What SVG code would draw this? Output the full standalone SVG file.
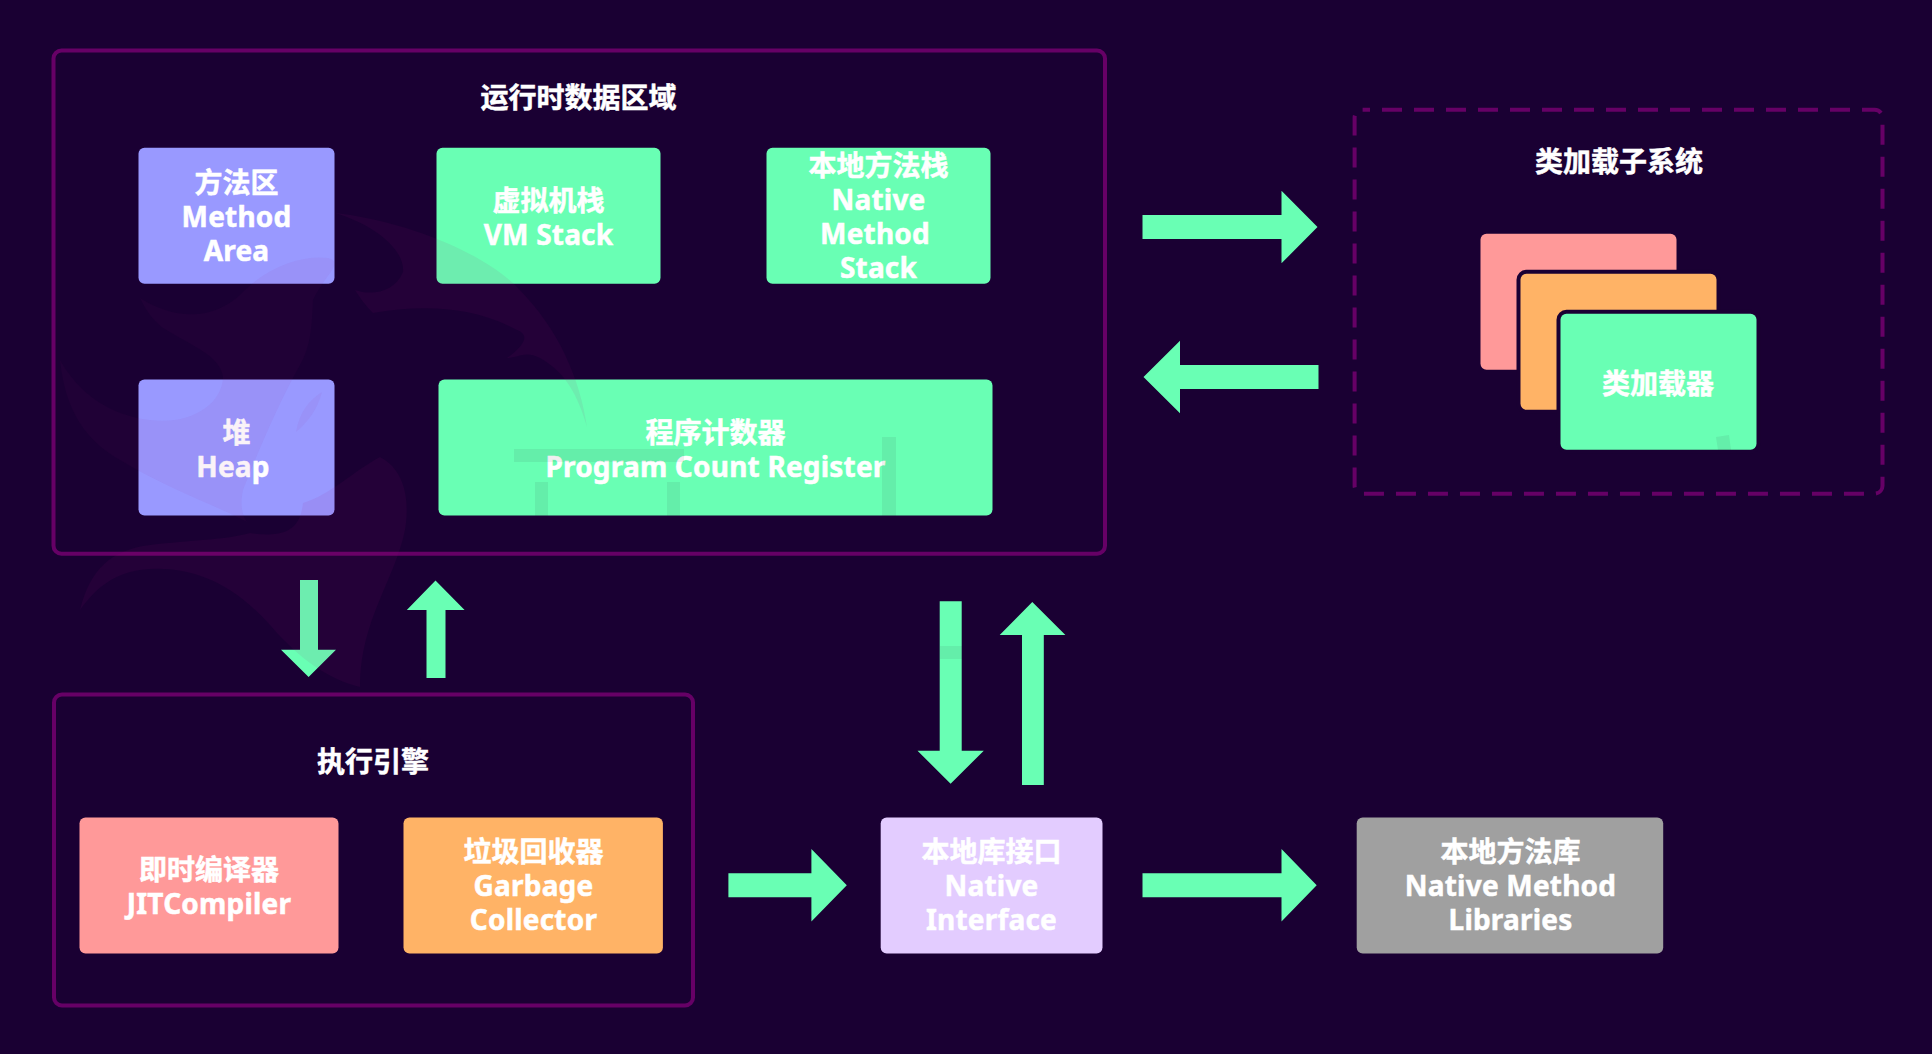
<svg xmlns="http://www.w3.org/2000/svg" width="1932" height="1054" viewBox="0 0 1932 1054">
<style>
text{font-family:"Noto Sans","Noto Sans CJK SC","Liberation Sans",sans-serif;font-weight:700;font-size:28px;fill:#fff;text-anchor:middle;stroke:#fff;stroke-width:.5}
.en{letter-spacing:.2px}
.group{fill:none;stroke:#660066;stroke-width:4}
.green{fill:#69ffb4}.purple{fill:#9999ff}.salmon{fill:#ff9999}.orange{fill:#ffb366}.lav{fill:#e3ccff}.gray{fill:#a0a0a0}
.edge{stroke:#1a0033;stroke-width:8;paint-order:stroke}
.wm{fill:#a0147a;opacity:.075}
.wf{fill:#a0147a;opacity:.05}
.wd{fill:#2a0a30;opacity:.07}
</style>
<rect width="1932" height="1054" fill="#1a0033"/>
<g id="runtime-area">
<rect class="group" x="53.5" y="50.5" width="1051.5" height="503.2" rx="8"/>
<text x="578.5" y="108">运行时数据区域</text>
</g>
<g id="method-area">
<rect class="purple" x="138.5" y="147.7" width="196" height="136" rx="6"/>
<text x="236.5" y="193">方法区</text><text class="en" x="236.5" y="227">Method</text><text class="en" x="236.5" y="261">Area</text>
</g>
<g id="vm-stack">
<rect class="green" x="436.5" y="147.7" width="224" height="136" rx="6"/>
<text x="548.5" y="210.5">虚拟机栈</text><text class="en" x="548.5" y="244.5">VM Stack</text>
</g>
<g id="native-stack">
<rect class="green" x="766.5" y="147.7" width="224" height="136" rx="6"/>
<text x="878.5" y="176">本地方法栈</text><text class="en" x="878.5" y="210">Native</text><text class="en" x="875" y="244">Method</text><text class="en" x="878.5" y="278">Stack</text>
</g>
<g id="heap">
<rect class="purple" x="138.5" y="379.6" width="196" height="136" rx="6"/>
<text x="236.5" y="442.7">堆</text><text class="en" x="233" y="476.7">Heap</text>
</g>
<g id="program-counter">
<rect class="green" x="438.5" y="379.6" width="554" height="136" rx="6"/>
<text x="715.5" y="442.7">程序计数器</text><text class="en" x="715.5" y="476.7">Program Count Register</text>
</g>
<g id="class-loader-subsystem">
<rect class="group" x="1354.6" y="109.7" width="527.9" height="384" rx="8" stroke-dasharray="20 12" stroke-dashoffset="12.6"/>
<text x="1619" y="172">类加载子系统</text>
</g>
<g id="class-loader">
<rect class="salmon" x="1480.5" y="233.7" width="196" height="136" rx="6"/>
<rect class="orange edge" x="1520.5" y="273.7" width="196" height="136" rx="6"/>
<rect class="green edge" x="1560.5" y="313.7" width="196" height="136" rx="6"/>
<text x="1658" y="394">类加载器</text>
</g>
<g id="execution-engine">
<rect class="group" x="54" y="694.5" width="639" height="311" rx="8"/>
<text x="373" y="772">执行引擎</text>
</g>
<g id="jit-compiler">
<rect class="salmon" x="79.5" y="817.4" width="259" height="136" rx="6"/>
<text x="209" y="880">即时编译器</text><text class="en" x="209" y="914">JITCompiler</text>
</g>
<g id="garbage-collector">
<rect class="orange" x="403.5" y="817.4" width="259.4" height="136" rx="6"/>
<text x="533.5" y="862">垃圾回收器</text><text class="en" x="533.5" y="896">Garbage</text><text class="en" x="533.5" y="930">Collector</text>
</g>
<g id="native-interface">
<rect class="lav" x="880.7" y="817.4" width="221.8" height="136" rx="6"/>
<text x="991.5" y="862">本地库接口</text><text class="en" x="991.5" y="896">Native</text><text class="en" x="991.5" y="930">Interface</text>
</g>
<g id="native-libraries">
<rect class="gray" x="1356.7" y="817.4" width="306.5" height="136" rx="6"/>
<text x="1510.5" y="862">本地方法库</text><text class="en" x="1510.5" y="896">Native Method</text><text class="en" x="1510.5" y="930">Libraries</text>
</g>
<g id="connectors" class="green">
<polygon points="1142.5,215 1281.5,215 1281.5,190.7 1317.5,227 1281.5,263.3 1281.5,239 1142.5,239"/>
<polygon points="1318.5,365 1180,365 1180,340.7 1143.5,377 1180,413.3 1180,389 1318.5,389"/>
<polygon points="300,580 318,580 318,649.7 336,649.7 308.6,677 281,649.7 300,649.7"/>
<polygon points="426.5,678 445.5,678 445.5,610 464.6,610 435.5,580.5 406.8,610 426.5,610"/>
<polygon points="939.7,601.3 961.7,601.3 961.7,750.7 983.8,750.7 950.6,783.7 917.5,750.7 939.7,750.7"/>
<polygon points="1022,785 1043.8,785 1043.8,635 1065.4,635 1032.3,602 999.7,635 1022,635"/>
<polygon points="728.4,873.3 811.4,873.3 811.4,849 846.8,885.3 811.4,921.6 811.4,897.3 728.4,897.3"/>
<polygon points="1142.5,873.3 1281.5,873.3 1281.5,849 1316.7,885.3 1281.5,921.6 1281.5,897.3 1142.5,897.3"/>
</g>
<g id="watermark">
<path class="wm" d="M335,213C400,220 480,250 517,287C560,330 580,380 587,427C578,395 565,372 540,358C525,350 518,358 507,358C525,345 530,335 517,330C470,305 420,305 373,313C365,305 360,298 355,290C372,296 395,292 403,272C405,250 375,225 335,213Z"/>
<path class="wf" d="M140,298C175,320 215,322 245,290C270,265 305,255 328,258C345,262 325,275 313,300C312,320 312,345 300,365C275,410 255,460 243,490C240,505 242,515 247,522C215,505 170,490 120,460C85,440 65,410 60,360C80,395 110,415 150,420C190,425 222,405 223,377C220,355 190,345 163,328C150,318 145,308 140,298Z"/>
<path class="wm" d="M80,610C90,570 110,550 150,545C190,540 225,540 250,533C285,538 300,530 303,503C330,495 355,470 380,457C405,470 410,500 405,530C395,580 360,620 360,687C330,680 300,660 270,625C225,575 180,565 140,570C110,575 95,590 80,610Z"/>
<path class="wf" d="M296,432C300,410 310,400 322,392C318,410 305,425 296,432Z"/>
<rect class="wd" x="514" y="449" width="170" height="13"/>
<rect class="wd" x="535" y="482" width="13" height="34"/>
<rect class="wd" x="667" y="482" width="13" height="34"/>
<rect class="wd" x="882" y="437" width="14" height="79"/>
<rect class="wd" x="940" y="646" width="22" height="13"/>
<path class="wd" d="M1716,437L1729,435L1731,450L1718,450Z"/>
</g>
</svg>
